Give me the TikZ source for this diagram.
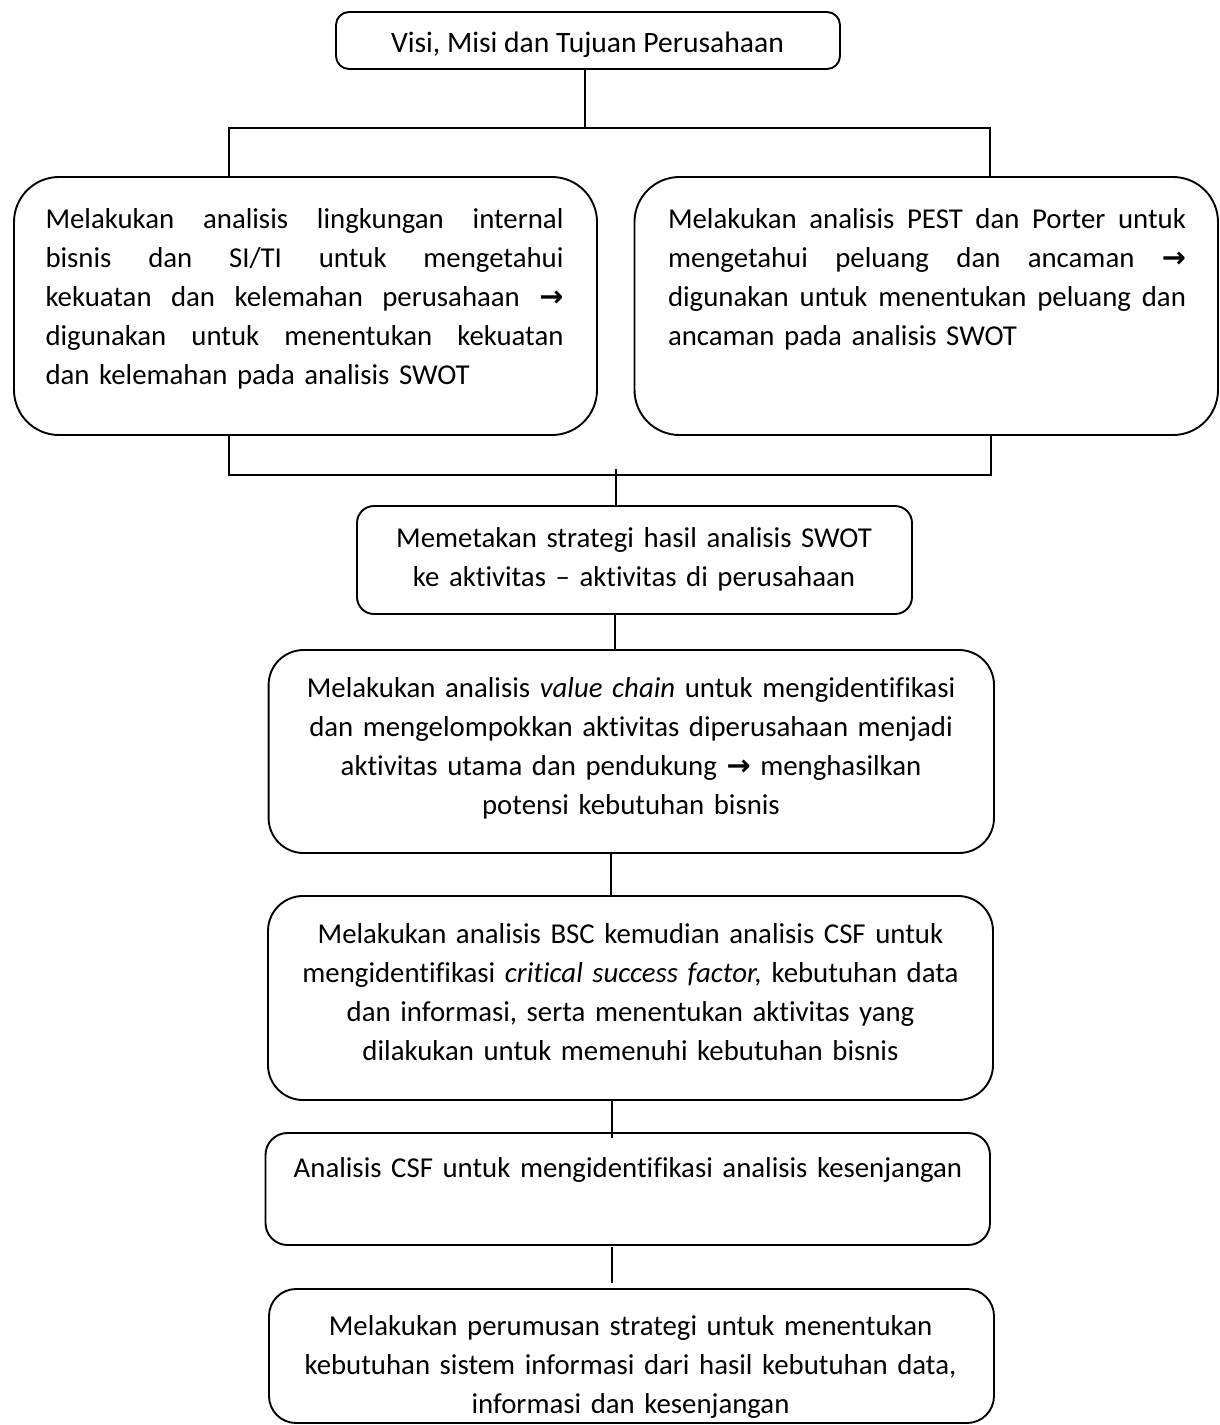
\documentclass[tikz,border=0pt]{standalone}
\usepackage{fontspec}
\setmainfont{Carlito}[Ligatures=NoCommon]
\newfontfamily\arrowfont{DejaVu Sans}
\usetikzlibrary{calc}
% a fully justified line: every interword space stretches equally
\newcommand{\jline}[1]{\leavevmode\hbox to 518pt{\spaceskip=0.23em plus 1fil\relax #1}}
\newcommand{\rarr}{{\arrowfont\bfseries →}}
\begin{document}
\begin{tikzpicture}[x=1pt,y=-1pt,
  every node/.style={inner sep=0pt, outer sep=0pt},
  box/.style={draw, line width=1.9pt, rectangle},
  body/.style={font=\fontsize{28.8}{39}\selectfont},
  jtext/.style={body, text width=518pt, align=left, anchor=base west},
  ctext/.style={body, text width=740pt, align=center, anchor=base},
  link/.style={line width=1.9pt}]
\useasboundingbox (0,0) rectangle (1219,1425);

% boxes
\node[box, rounded corners=13pt, minimum width=504pt, minimum height=57pt] (vision) at (588,40.5) {};
\node[box, rounded corners=45pt, minimum width=583pt, minimum height=258pt] (inL) at (305.5,306) {};
\node[box, rounded corners=45pt, minimum width=583.5pt, minimum height=258pt] (inR) at (926.25,306) {};
\node[box, rounded corners=17pt, minimum width=555pt, minimum height=108pt] (swot) at (634.5,560) {};
\node[box, rounded corners=35pt, minimum width=725.4pt, minimum height=203pt] (vc) at (631.3,751.5) {};
\node[box, rounded corners=35pt, minimum width=725pt, minimum height=204pt] (bsc) at (630.5,998) {};
\node[box, rounded corners=22pt, minimum width=724.5pt, minimum height=112pt] (gap) at (627.75,1189) {};
\node[box, rounded corners=27pt, minimum width=725pt, minimum height=134pt] (plan) at (631.5,1356) {};

% texts
\node[body, anchor=base, font=\fontsize{29.6}{39}\selectfont] (visionT) at (587.5,52) {Visi, Misi dan Tujuan Perusahaan};
\node[jtext] (inLT) at (45.5,228) {\jline{Melakukan analisis lingkungan internal}\\
\jline{bisnis dan SI/TI untuk mengetahui}\\
\jline{kekuatan dan kelemahan perusahaan \rarr}\\
\jline{digunakan untuk menentukan kekuatan}\\
dan kelemahan pada analisis SWOT};
\node[jtext] (inRT) at (668,228) {\jline{Melakukan analisis PEST dan Porter untuk}\\
\jline{mengetahui peluang dan ancaman \rarr}\\
\jline{digunakan untuk menentukan peluang dan}\\
ancaman pada analisis SWOT};
\node[ctext] (swotT) at (634,547) {Memetakan strategi hasil analisis SWOT\\
ke aktivitas – aktivitas di perusahaan};
\node[ctext] (vcT) at (631,697) {Melakukan analisis \textit{value chain} untuk mengidentifikasi\\
dan mengelompokkan aktivitas diperusahaan menjadi\\
aktivitas utama dan pendukung \rarr{} menghasilkan\\
potensi kebutuhan bisnis};
\node[ctext] (bscT) at (630.5,943) {Melakukan analisis BSC kemudian analisis CSF untuk\\
mengidentifikasi \textit{critical success factor,} kebutuhan data\\
dan informasi, serta menentukan aktivitas yang\\
dilakukan untuk memenuhi kebutuhan bisnis};
\node[ctext] (gapT) at (628,1177) {Analisis CSF untuk mengidentifikasi analisis kesenjangan};
\node[ctext] (planT) at (630.5,1335) {Melakukan perumusan strategi untuk menentukan\\
kebutuhan sistem informasi dari hasil kebutuhan data,\\
informasi dan kesenjangan};

% connector columns and bars
\coordinate (topL) at (229,128);
\coordinate (topR) at (990,128);
\coordinate (botL) at (229,475);
\coordinate (botR) at (991,475);
\coordinate (mid) at (616,469);
\coordinate (c34) at (615,0);
\coordinate (c45) at (611,0);
\coordinate (c56) at (612,0);

% connectors
\draw[link] ([xshift=-3pt]vision.south) -- ([xshift=-3pt]vision.south |- topL);
\draw[link] (topL |- inL.north) -- (topL) -- (topR) -- (topR |- inR.north);
\draw[link] (botL |- inL.south) -- (botL) -- (botR) -- (botR |- inR.south);
\draw[link] (mid) -- (mid |- swot.north);
\draw[link] (c34 |- swot.south) -- (c34 |- vc.north);
\draw[link] (c45 |- vc.south) -- (c45 |- bsc.north);
\draw[link] (c56 |- bsc.south) -- ([yshift=-5pt]c56 |- gap.north);
\draw[link] ([yshift=-2pt]c56 |- gap.south) -- ([yshift=6pt]c56 |- plan.north);
\end{tikzpicture}
\end{document}
